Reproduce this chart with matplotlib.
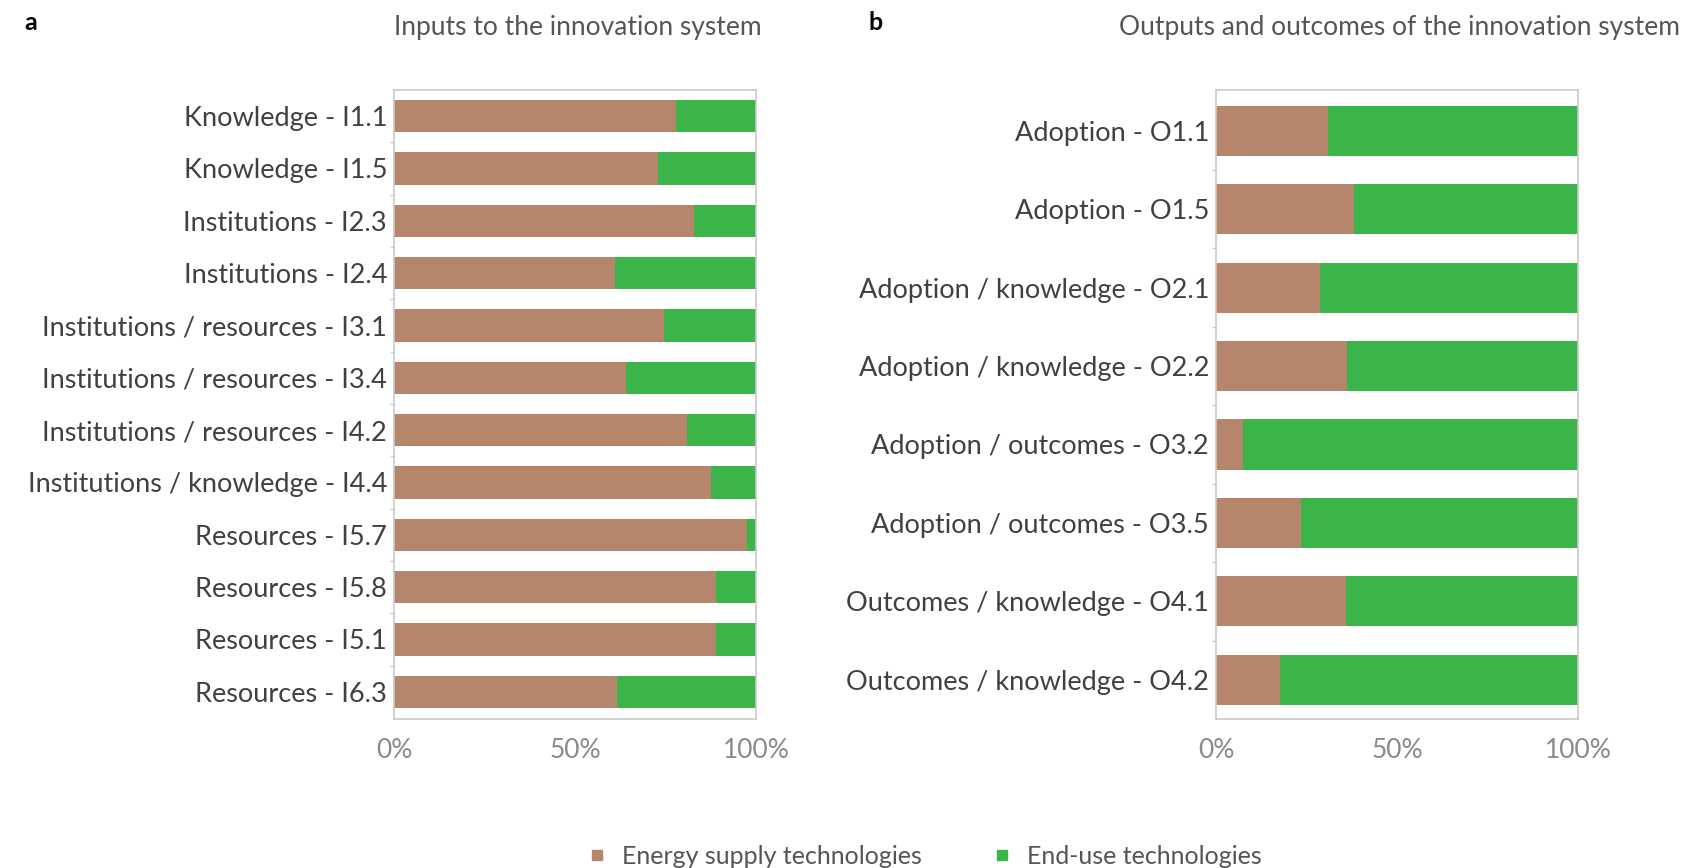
import numpy as np
import matplotlib
matplotlib.use("Agg")
import matplotlib.pyplot as plt
from matplotlib.ticker import FixedLocator

plt.rcParams['font.family'] = ['Lato', 'DejaVu Sans']

# Panel a: inputs
inputs_labels = ["Knowledge - I1.1", "Knowledge - I1.5", "Institutions - I2.3",
                 "Institutions - I2.4", "Institutions / resources - I3.1",
                 "Institutions / resources - I3.4", "Institutions / resources - I4.2",
                 "Institutions / knowledge - I4.4", "Resources - I5.7",
                 "Resources - I5.8", "Resources - I5.1", "Resources - I6.3"]
inputs_supply = [0.78, 0.73, 0.83, 0.61, 0.745, 0.64, 0.81, 0.875, 0.975, 0.89, 0.89, 0.617]

# Panel b: outputs and outcomes
outputs_labels = ["Adoption - O1.1", "Adoption - O1.5", "Adoption / knowledge - O2.1",
                  "Adoption / knowledge - O2.2", "Adoption / outcomes - O3.2",
                  "Adoption / outcomes - O3.5", "Outcomes / knowledge - O4.1",
                  "Outcomes / knowledge - O4.2"]
outputs_supply = [0.31, 0.38, 0.287, 0.363, 0.074, 0.234, 0.358, 0.176]

series_names = ["Energy supply technologies", "End-use technologies"]
brown = "#b5866b"
green = "#3bb54a"
frame = "#c9c9c9"

W, H = 1683, 868
fig = plt.figure(figsize=(W / 100, H / 100), dpi=100)


def px_axes(x0, y0, x1, y1):
    return fig.add_axes([x0 / W, 1 - y1 / H, (x1 - x0) / W, (y1 - y0) / H])


def panel(ax, labels, supply, bar_h, ylim):
    supply = np.array(supply)
    use = 1 - supply
    y = np.arange(len(labels))
    ax.barh(y, supply, height=bar_h, color=brown, linewidth=0)
    ax.barh(y, use, left=supply, height=bar_h, color=green, linewidth=0)
    ax.set_xlim(0, 1)
    ax.set_ylim(*ylim)
    ax.set_yticks(y)
    ax.set_yticklabels(labels, fontsize=19.5, color="#404040")
    ax.set_xticks([0, 0.5, 1])
    ax.set_xticklabels(["0%", "50%", "100%"], fontsize=19, color="#8a8a8a")
    ax.tick_params(axis="y", length=0, pad=5)
    ax.tick_params(axis="x", length=0, pad=14)
    ax.yaxis.set_minor_locator(FixedLocator(y[:-1] + 0.5))
    ax.xaxis.set_minor_locator(FixedLocator([0.5]))
    ax.tick_params(which="minor", length=3, color=frame, width=1)
    for s in ax.spines.values():
        s.set_color(frame)
        s.set_linewidth(1.2)


ax1 = px_axes(394, 90, 756, 719)
panel(ax1, inputs_labels, inputs_supply, 0.62, (11.52, -0.5))

ax2 = px_axes(1216, 90, 1578, 719)
panel(ax2, outputs_labels, outputs_supply, 0.64, (7.5, -0.52))

# titles and panel letters
fig.text(24 / W, 1 - 22 / H, "a", fontsize=18, fontweight="bold", va="center", ha="left")
fig.text(762 / W, 1 - 27 / H, "Inputs to the innovation system",
         fontsize=19, color="#555555", va="center", ha="right")
fig.text(869 / W, 1 - 22 / H, "b", fontsize=18, fontweight="bold", va="center", ha="left")
fig.text(1680 / W, 1 - 27 / H, "Outputs and outcomes of the innovation system",
         fontsize=19, color="#555555", va="center", ha="right")

# legend
handles = [plt.Line2D([], [], marker="s", linestyle="", markersize=7, color=c)
           for c in (brown, green)]
fig.legend(handles, series_names, loc="center", bbox_to_anchor=(923 / W, 1 - 856 / H),
           ncol=2, frameon=False, fontsize=18, labelcolor="#555555",
           handletextpad=0.5, columnspacing=2.7, handlelength=1.0)

fig.savefig("out.png", dpi=100, facecolor="white")
